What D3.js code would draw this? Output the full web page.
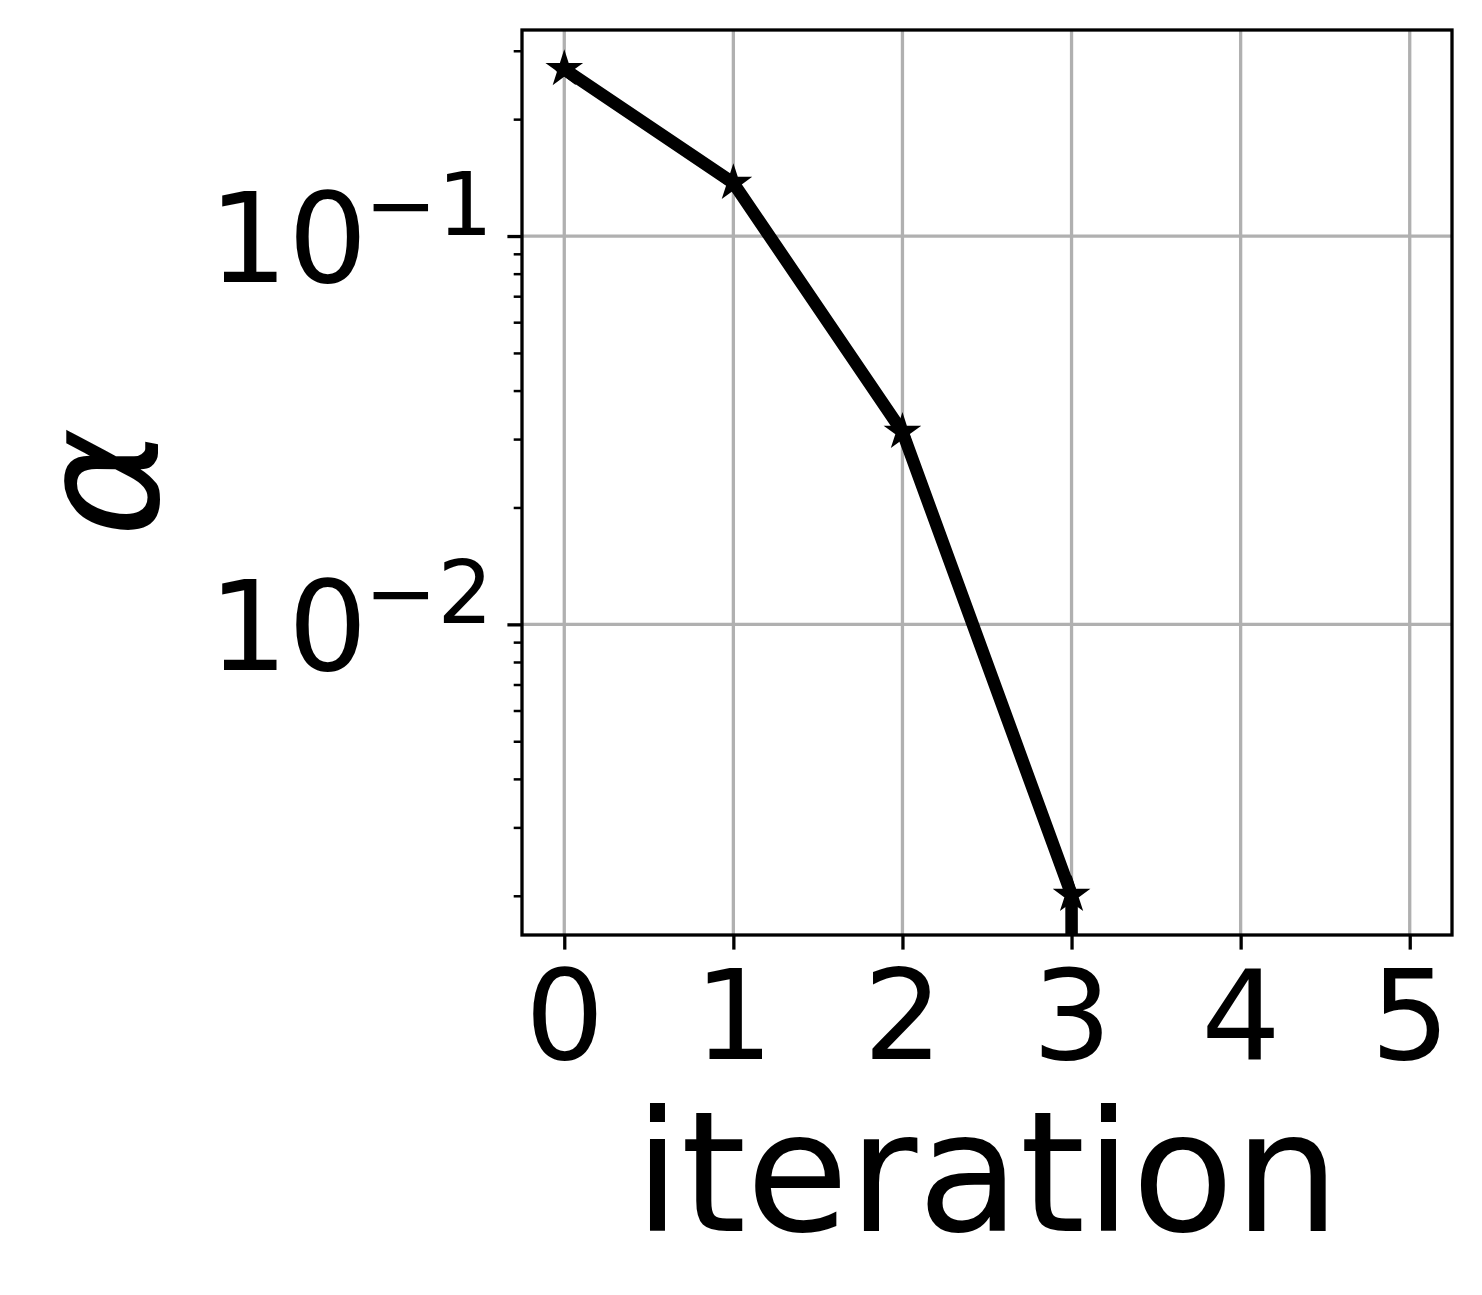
<!DOCTYPE html>
<html>
<head>
<meta charset="utf-8">
<script src="https://cdn.jsdelivr.net/npm/d3@7"></script>
<style>
  body { margin: 0; background: #fff; }
  svg { display: block; font-family: 'DejaVu Sans', sans-serif; }
</style>
</head>
<body>
<svg width="1482" height="1295"></svg>
<script>
// data
const iterations = [0, 1, 2, 3, 4];
const alphaValues = [0.269, 0.137, 0.0313, 0.00201, 0];
const xTicks = [0, 1, 2, 3, 4, 5];
const yMajorTicks = [0.1, 0.01];
const yMajorExponents = ['\u22121', '\u22122'];

const svg = d3.select('svg');

const margin = { top: 30, left: 522 };
const innerWidth = 930;
const innerHeight = 905;

const xScale = d3.scaleLinear().domain([-0.25, 5.25]).range([0, innerWidth]);
const yScale = d3.scaleLog().domain([0.001585, 0.3393]).range([innerHeight, 0]);

// zero values get clipped like matplotlib's log scale does
const yClip = v => (v > 0 ? v : 1e-300);

const g = svg.append('g').attr('transform', `translate(${margin.left},${margin.top})`);

g.append('clipPath').attr('id', 'plot-clip')
  .append('rect').attr('width', innerWidth).attr('height', innerHeight);

// grid
g.selectAll('.vgrid').data(xTicks).enter().append('line')
  .attr('x1', d => xScale(d)).attr('x2', d => xScale(d))
  .attr('y1', 0).attr('y2', innerHeight)
  .attr('stroke', '#b0b0b0').attr('stroke-width', 3.3);

g.selectAll('.hgrid').data(yMajorTicks).enter().append('line')
  .attr('x1', 0).attr('x2', innerWidth)
  .attr('y1', d => yScale(d)).attr('y2', d => yScale(d))
  .attr('stroke', '#b0b0b0').attr('stroke-width', 3.3);

// line + markers
const points = iterations.map((x, i) => ({ x, y: alphaValues[i] }));

const lineGenerator = d3.line()
  .x(d => xScale(d.x))
  .y(d => yScale(yClip(d.y)));

const plot = g.append('g').attr('clip-path', 'url(#plot-clip)');

plot.append('path')
  .attr('d', lineGenerator(points))
  .attr('fill', 'none')
  .attr('stroke', '#000')
  .attr('stroke-width', 12.5)
  .attr('stroke-linejoin', 'round')
  .attr('stroke-linecap', 'square');

const star = d3.symbol().type(d3.symbolStar).size(200);

plot.selectAll('.marker').data(points.filter(d => d.y > 0)).enter().append('path')
  .attr('d', star)
  .attr('transform', d => `translate(${xScale(d.x)},${yScale(d.y)})`)
  .attr('fill', '#000')
  .attr('stroke', '#000')
  .attr('stroke-width', 4)
  .attr('stroke-linejoin', 'miter');

// axes
const xAxis = d3.axisBottom(xScale)
  .tickValues(xTicks)
  .tickSize(14.6)
  .tickPadding(14.6)
  .tickFormat(d3.format('d'));

const xAxisG = g.append('g').attr('transform', `translate(0,${innerHeight})`).call(xAxis);
xAxisG.select('.domain').remove();
xAxisG.selectAll('line').attr('stroke-width', 3.3);
xAxisG.selectAll('text')
  .attr('font-size', 125)
  .attr('font-family', 'DejaVu Sans')
  .attr('fill', '#000')
  .attr('dy', '0.76em');

// minor log ticks
const yMinorTicks = [];
[0.001, 0.01, 0.1].forEach(base => {
  for (let m = 2; m <= 9; m++) {
    const v = +(base * m).toPrecision(3);
    if (v >= yScale.domain()[0] && v <= yScale.domain()[1]) yMinorTicks.push(v);
  }
});

const yMinorAxisG = g.append('g').call(
  d3.axisLeft(yScale).tickValues(yMinorTicks).tickSize(8.3).tickFormat('')
);
yMinorAxisG.select('.domain').remove();
yMinorAxisG.selectAll('line').attr('stroke-width', 2.5);

const yAxisG = g.append('g').call(
  d3.axisLeft(yScale).tickValues(yMajorTicks).tickSize(14.6).tickFormat('')
);
yAxisG.select('.domain').remove();
yAxisG.selectAll('line').attr('stroke-width', 3.3);

// y tick labels as 10^n
yMajorTicks.forEach((v, i) => {
  const t = g.append('text')
    .attr('x', -29.2)
    .attr('y', yScale(v) + 46)
    .attr('text-anchor', 'end')
    .attr('font-size', 125)
    .attr('fill', '#000');
  t.append('tspan').text('10');
  t.append('tspan')
    .attr('dx', -3)
    .attr('dy', -47)
    .attr('font-size', 87)
    .text(yMajorExponents[i]);
});

// frame
g.append('rect')
  .attr('width', innerWidth)
  .attr('height', innerHeight)
  .attr('fill', 'none')
  .attr('stroke', '#000')
  .attr('stroke-width', 3.3);

// axis labels
g.append('text')
  .attr('x', innerWidth / 2)
  .attr('y', 1231 - margin.top)
  .attr('text-anchor', 'middle')
  .attr('font-size', 167)
  .attr('fill', '#000')
  .text('iteration');

svg.append('text')
  .attr('transform', `translate(158,${margin.top + innerHeight / 2}) rotate(-90)`)
  .attr('text-anchor', 'middle')
  .attr('font-size', 167)
  .attr('font-style', 'italic')
  .attr('fill', '#000')
  .text('α');
</script>
</body>
</html>
